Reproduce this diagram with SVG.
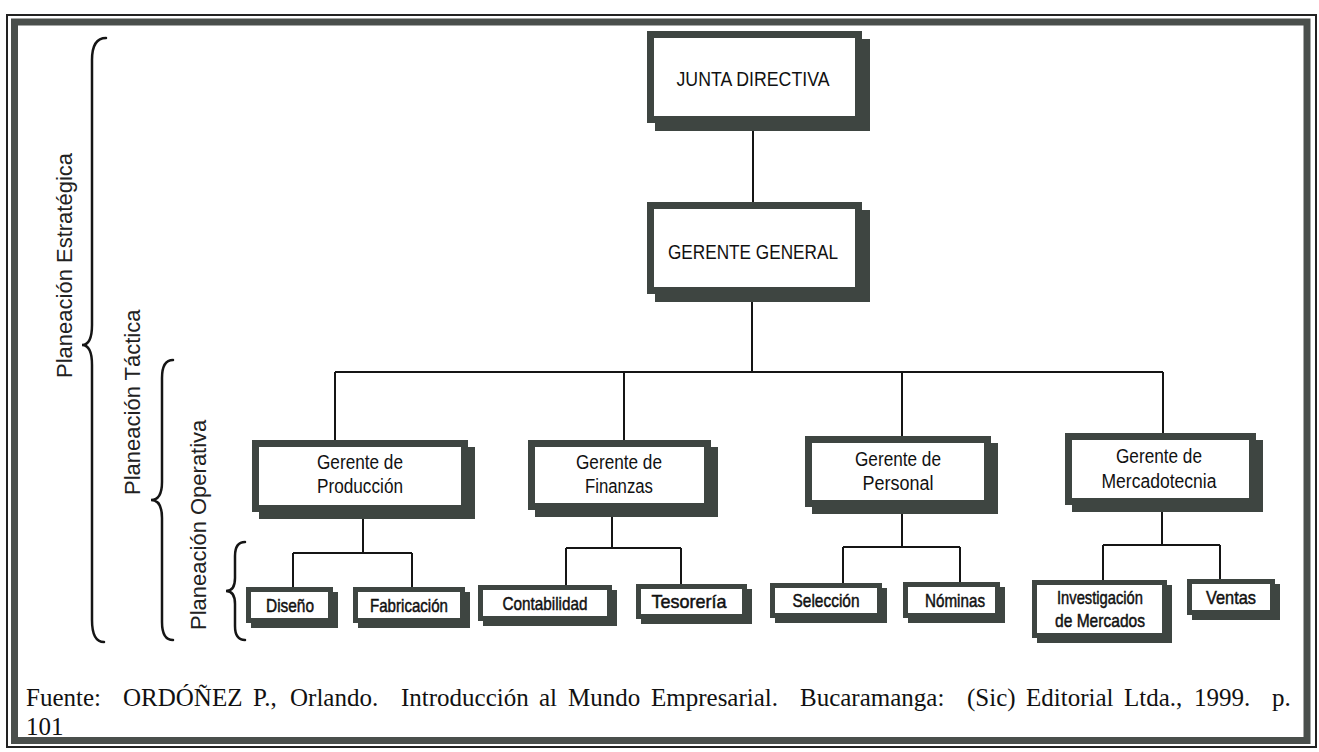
<svg xmlns="http://www.w3.org/2000/svg" width="1319" height="752" viewBox="0 0 1319 752">
<style>
.fr{fill:#3e4541}
.wh{fill:#ffffff}
.ln{stroke:#151515;stroke-width:2;fill:none}
.br{stroke:#151515;stroke-width:2.5;fill:none;stroke-linecap:round}
.t{font-family:"Liberation Sans Narrow","Arial Narrow","Liberation Sans",Arial,sans-serif;fill:#111;text-anchor:middle}
.t1{font-size:21px}
.t2{font-size:20px}
.t3{font-size:19px;stroke:#111;stroke-width:0.5}
.lab{font-family:"Liberation Sans",Arial,sans-serif;font-size:22px;fill:#222}
.src{font-family:"Liberation Serif","Times New Roman",serif;font-size:25px;fill:#111}
</style>
<rect width="1319" height="752" fill="#ffffff"/>
<g id="frame">
<rect x="7" y="15" width="1309" height="732" fill="none" stroke="#222" stroke-width="2"/>
<rect x="14.5" y="22" width="1292.5" height="718.5" fill="none" stroke="#4a4f4c" stroke-width="7"/>
</g>
<g id="connectors">
<path class="ln" d="M753 131V202M752 302V372M335 372H1163M335 372V440M624 372V440M902 372V436M1163 372V433"/>
<path class="ln" d="M363 512V553M293 553H412M293 553V587M412 553V587"/>
<path class="ln" d="M612 510V548M566 548H681M566 548V585M681 548V584"/>
<path class="ln" d="M902 507V547M843 547H960M843 547V583M960 547V582"/>
<path class="ln" d="M1162 505V545M1103 545H1220M1103 545V580M1220 545V579"/>
</g>
<g id="braces">
<path class="br" d="M106 38Q92 38 92 60L92 325Q92 345 82 345Q92 345 92 365L92 620Q92 642 104 642"/>
<path class="br" d="M173 360Q162 360 162 378L162 482Q162 500 151 500Q162 500 162 518L162 622Q162 640 173 640"/>
<path class="br" d="M245 542Q235 542 235 556L235 578Q235 591 226 591Q235 591 235 604L235 626Q235 640 245 640"/>
</g>
<g id="labels">
<text class="lab" transform="translate(72,378) rotate(-90)">Planeación Estratégica</text>
<text class="lab" transform="translate(140,495) rotate(-90)">Planeación Táctica</text>
<text class="lab" transform="translate(206,630) rotate(-90)">Planeación Operativa</text>
</g>
<g id="n-junta">
<rect class="fr" x="647" y="31" width="215" height="92"/><rect class="fr" x="655" y="39" width="215" height="92"/><rect class="wh" x="654" y="38" width="201" height="78"/>
<text class="t t1" x="753" y="86" textLength="153" lengthAdjust="spacingAndGlyphs">JUNTA DIRECTIVA</text>
</g>
<g id="n-gerente">
<rect class="fr" x="647" y="202" width="215" height="92"/><rect class="fr" x="655" y="210" width="215" height="92"/><rect class="wh" x="654" y="209" width="201" height="78"/>
<text class="t t1" x="753" y="259" textLength="170" lengthAdjust="spacingAndGlyphs">GERENTE GENERAL</text>
</g>
<g id="n-produccion">
<rect class="fr" x="252" y="440" width="216" height="72"/><rect class="fr" x="259" y="447" width="216" height="72"/><rect class="wh" x="259" y="447" width="202" height="58"/>
<text class="t t2" x="360" y="469" textLength="86" lengthAdjust="spacingAndGlyphs">Gerente de</text>
<text class="t t2" x="360" y="493" textLength="86" lengthAdjust="spacingAndGlyphs">Producción</text>
</g>
<g id="n-finanzas">
<rect class="fr" x="528" y="440" width="183" height="70"/><rect class="fr" x="535" y="447" width="183" height="70"/><rect class="wh" x="535" y="447" width="169" height="56"/>
<text class="t t2" x="619" y="469" textLength="86" lengthAdjust="spacingAndGlyphs">Gerente de</text>
<text class="t t2" x="619" y="493" textLength="68" lengthAdjust="spacingAndGlyphs">Finanzas</text>
</g>
<g id="n-personal">
<rect class="fr" x="805" y="436" width="186" height="71"/><rect class="fr" x="812" y="443" width="186" height="71"/><rect class="wh" x="812" y="443" width="172" height="57"/>
<text class="t t2" x="898" y="466" textLength="86" lengthAdjust="spacingAndGlyphs">Gerente de</text>
<text class="t t2" x="898" y="490" textLength="71" lengthAdjust="spacingAndGlyphs">Personal</text>
</g>
<g id="n-mercadotecnia">
<rect class="fr" x="1065" y="433" width="191" height="72"/><rect class="fr" x="1072" y="440" width="191" height="72"/><rect class="wh" x="1072" y="440" width="177" height="58"/>
<text class="t t2" x="1159" y="463" textLength="86" lengthAdjust="spacingAndGlyphs">Gerente de</text>
<text class="t t2" x="1159" y="488" textLength="115" lengthAdjust="spacingAndGlyphs">Mercadotecnia</text>
</g>
<g id="n-diseno">
<rect class="fr" x="246" y="587" width="87" height="36"/><rect class="fr" x="251" y="592" width="87" height="36"/><rect class="wh" x="251" y="592" width="77" height="26"/>
<text class="t t3" x="290" y="612" textLength="48" lengthAdjust="spacingAndGlyphs">Diseño</text>
</g>
<g id="n-fabricacion">
<rect class="fr" x="353" y="587" width="112" height="36"/><rect class="fr" x="358" y="592" width="112" height="36"/><rect class="wh" x="358" y="592" width="102" height="26"/>
<text class="t t3" x="409" y="612" textLength="78" lengthAdjust="spacingAndGlyphs">Fabricación</text>
</g>
<g id="n-contabilidad">
<rect class="fr" x="478" y="585" width="134" height="36"/><rect class="fr" x="483" y="590" width="134" height="36"/><rect class="wh" x="483" y="590" width="124" height="26"/>
<text class="t t3" x="545" y="610" textLength="85" lengthAdjust="spacingAndGlyphs">Contabilidad</text>
</g>
<g id="n-tesoreria">
<rect class="fr" x="636" y="584" width="111" height="35"/><rect class="fr" x="641" y="589" width="111" height="35"/><rect class="wh" x="641" y="589" width="101" height="25"/>
<text class="t t3" x="689" y="608" textLength="75" lengthAdjust="spacingAndGlyphs">Tesorería</text>
</g>
<g id="n-seleccion">
<rect class="fr" x="770" y="583" width="112" height="35"/><rect class="fr" x="775" y="588" width="112" height="35"/><rect class="wh" x="775" y="588" width="102" height="25"/>
<text class="t t3" x="826" y="607" textLength="67" lengthAdjust="spacingAndGlyphs">Selección</text>
</g>
<g id="n-nominas">
<rect class="fr" x="903" y="582" width="97" height="36"/><rect class="fr" x="908" y="587" width="97" height="36"/><rect class="wh" x="908" y="587" width="87" height="26"/>
<text class="t t3" x="955" y="607" textLength="60" lengthAdjust="spacingAndGlyphs">Nóminas</text>
</g>
<g id="n-investigacion">
<rect class="fr" x="1032" y="580" width="135" height="58"/><rect class="fr" x="1037" y="585" width="135" height="58"/><rect class="wh" x="1037" y="585" width="125" height="48"/>
<text class="t t3" x="1100" y="604" textLength="86" lengthAdjust="spacingAndGlyphs">Investigación</text>
<text class="t t3" x="1100" y="627" textLength="90" lengthAdjust="spacingAndGlyphs">de Mercados</text>
</g>
<g id="n-ventas">
<rect class="fr" x="1187" y="579" width="88" height="36"/><rect class="fr" x="1192" y="584" width="88" height="36"/><rect class="wh" x="1192" y="584" width="78" height="26"/>
<text class="t t3" x="1231" y="604" textLength="50" lengthAdjust="spacingAndGlyphs">Ventas</text>
</g>
<g id="source">
<text class="src" y="706"><tspan x="26">Fuente:</tspan><tspan x="123">ORDÓÑEZ</tspan><tspan x="253">P.,</tspan><tspan x="290">Orlando.</tspan><tspan x="401">Introducción</tspan><tspan x="539">al</tspan><tspan x="568">Mundo</tspan><tspan x="651">Empresarial.</tspan><tspan x="800">Bucaramanga:</tspan><tspan x="967">(Sic)</tspan><tspan x="1026">Editorial</tspan><tspan x="1124">Ltda.,</tspan><tspan x="1194">1999.</tspan><tspan x="1272">p.</tspan></text>
<text class="src" x="26" y="735">101</text>
</g>
</svg>
